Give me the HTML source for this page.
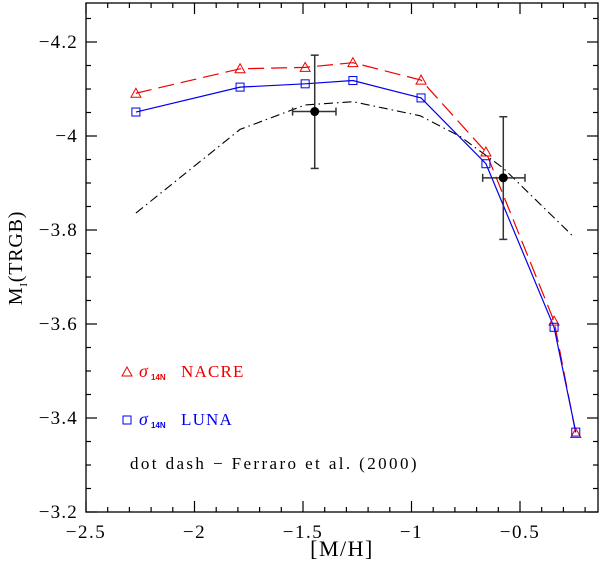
<!DOCTYPE html>
<html><head><meta charset="utf-8"><style>
html,body{margin:0;padding:0;background:#fff;}
svg{display:block;}
</style></head><body>
<svg id="chart" width="600" height="569" xmlns="http://www.w3.org/2000/svg">
<g id="ticks"></g>
<g id="series"></g>
<rect x="86" y="3" width="512" height="509" fill="none" stroke="#000" stroke-width="1.3"/>
<g font-family="'Liberation Serif', serif">
  <polygon points="122,376 132,376 127,367" fill="none" stroke="#e00" stroke-width="1"/>
  <text x="139" y="377" fill="#e00" font-size="18" font-style="italic">σ</text>
  <text x="151" y="380" fill="#e00" font-size="8" font-weight="bold" font-family="'Liberation Sans', sans-serif">14N</text>
  <text x="181" y="377" fill="#e00" font-size="17" letter-spacing="1.2">NACRE</text>
  <rect x="123" y="416" width="8" height="8" fill="none" stroke="#00e" stroke-width="1"/>
  <text x="139" y="425" fill="#00e" font-size="18" font-style="italic">σ</text>
  <text x="151" y="428" fill="#00e" font-size="8" font-weight="bold" font-family="'Liberation Sans', sans-serif">14N</text>
  <text x="181" y="425" fill="#00e" font-size="17" letter-spacing="1.2">LUNA</text>
  <text x="130" y="469" fill="#000" font-size="17" letter-spacing="2.4">dot dash − Ferraro et al. (2000)</text>
</g>
<text x="342" y="556" text-anchor="middle" font-family="'Liberation Serif', serif" font-size="22" letter-spacing="1.5">[M/H]</text>
<text transform="translate(22,258) rotate(-90)" text-anchor="middle" font-family="'Liberation Serif', serif" font-size="20" letter-spacing="0.8">M<tspan font-size="11" dy="5">I</tspan><tspan dy="-5">(TRGB)</tspan></text>
</svg>
<script>
const xTicks = [-2.5, -2, -1.5, -1, -0.5];
const xTickLabels = ["−2.5", "−2", "−1.5", "−1", "−0.5"];
const yTicks = [-4.2, -4, -3.8, -3.6, -3.4, -3.2];
const yTickLabels = ["−4.2", "−4", "−3.8", "−3.6", "−3.4", "−3.2"];
const metallicity = [-2.27, -1.79, -1.49, -1.27, -0.956, -0.657, -0.343, -0.243];
const nacreMag = [-4.091, -4.143, -4.146, -4.156, -4.119, -3.966, -3.606, -3.367];
const lunaMag = [-4.051, -4.104, -4.111, -4.118, -4.081, -3.941, -3.593, -3.370];
const ferraroX = [-2.27, -1.79, -1.49, -1.27, -0.96, -0.776, -0.578, -0.254];
const ferraroY = [-3.836, -4.014, -4.066, -4.073, -4.043, -3.999, -3.932, -3.786];
const obsX = [-1.446, -0.577];
const obsY = [-4.052, -3.911];
const obsXErrLo = [-1.548, -0.672];
const obsXErrHi = [-1.348, -0.477];
const obsYErrLo = [-4.172, -4.041];
const obsYErrHi = [-3.931, -3.780];

const X0=86, X1=598, Y0=3, Y1=512;
function sx(v){ return 86 + (v + 2.5) * 217; }
function sy(v){ return 42 + (v + 4.2) * 470; }
const NS='http://www.w3.org/2000/svg';
function mk(tag, attrs, parent){ const e=document.createElementNS(NS,tag); for(const k in attrs) e.setAttribute(k,attrs[k]); parent.appendChild(e); return e; }
const tg=document.getElementById('ticks');
const sg=document.getElementById('series');

for(let i=0;i<=24;i++){
  const v=-2.5+i*0.1; const x=sx(v); if(x>X1-1) break;
  const major = i%5===0; const L = major?11:5;
  const b=mk('line',{x1:x,y1:Y1,x2:x,y2:Y1-L,stroke:'#000','stroke-width':1.2},tg);
  
  
  const t=mk('line',{x1:x,y1:Y0,x2:x,y2:Y0+L,stroke:'#000','stroke-width':1.2},tg);
  
  
}
xTicks.forEach((v,i)=>{
  const t=mk('text',{x:sx(v),y:538,'text-anchor':'middle','font-family':"'Liberation Serif', serif",'font-size':19,'letter-spacing':1.5},tg);
  t.textContent=xTickLabels[i];
  
  
});
for(let i=-1;i<=20;i++){
  const v=-4.2+i*0.05; const y=sy(v); if(y<Y0+1||y>Y1) continue;
  const major = ((i%4)+4)%4===0; const L = major?11:5;
  const l=mk('line',{x1:X0,y1:y,x2:X0+L,y2:y,stroke:'#000','stroke-width':1.2},tg);
  
  
  const r=mk('line',{x1:X1,y1:y,x2:X1-L,y2:y,stroke:'#000','stroke-width':1.2},tg);
  
  
}
yTicks.forEach((v,i)=>{
  const t=mk('text',{x:78,y:sy(v)+6,'text-anchor':'end','font-family':"'Liberation Serif', serif",'font-size':19,'letter-spacing':1.2},tg);
  t.textContent=yTickLabels[i];
  
  
});

function pts(xs,ys){ return xs.map((v,i)=>sx(v)+','+sy(ys[i])).join(' '); }
const fl=mk('polyline',{points:pts(ferraroX,ferraroY),fill:'none',stroke:'#000','stroke-width':1.1,'stroke-dasharray':'9,4,1.5,4'},sg);


const nl=mk('polyline',{points:pts(metallicity,nacreMag),fill:'none',stroke:'#e00','stroke-width':1.2,'stroke-dasharray':'16,7'},sg);


const ll=mk('polyline',{points:pts(metallicity,lunaMag),fill:'none',stroke:'#00e','stroke-width':1.2},sg);


metallicity.forEach((v,i)=>{
  const x=sx(v), y=sy(nacreMag[i]);
  const p=mk('polygon',{points:`${x-5},${y+4} ${x+5},${y+4} ${x},${y-5}`,fill:'none',stroke:'#e00','stroke-width':1},sg);
  
  
  const y2=sy(lunaMag[i]);
  const r=mk('rect',{x:x-4,y:y2-4,width:8,height:8,fill:'none',stroke:'#00e','stroke-width':1},sg);
  
  
});
obsX.forEach((v,i)=>{
  const x=sx(v), y=sy(obsY[i]);
  const g=mk('g',{stroke:'#333','stroke-width':1.5},sg);
  
  
  const ya=sy(obsYErrLo[i]), yb=sy(obsYErrHi[i]), xa=sx(obsXErrLo[i]), xb=sx(obsXErrHi[i]);
  mk('line',{x1:x,y1:ya,x2:x,y2:yb},g);
  mk('line',{x1:x-4,y1:ya,x2:x+4,y2:ya},g);
  mk('line',{x1:x-4,y1:yb,x2:x+4,y2:yb},g);
  mk('line',{x1:xa,y1:y,x2:xb,y2:y},g);
  mk('line',{x1:xa,y1:y-4,x2:xa,y2:y+4},g);
  mk('line',{x1:xb,y1:y-4,x2:xb,y2:y+4},g);
  const c=mk('circle',{cx:x,cy:y,r:4.5,fill:'#000'},sg);
  
  
});
</script>
</body></html>
